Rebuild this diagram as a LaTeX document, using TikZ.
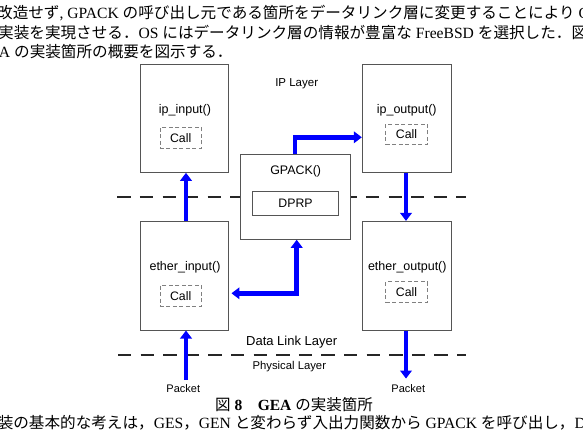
\documentclass[tikz,border=0pt]{standalone}
\usepackage{fontspec}
\setmainfont{Liberation Serif}
\newfontfamily\J{Noto Sans CJK JP}
\newfontfamily\dsans{Liberation Sans}
\usetikzlibrary{arrows.meta,calc}
\definecolor{boxgray}{HTML}{555555}
\definecolor{callgray}{HTML}{808080}
\definecolor{flowblue}{RGB}{0,0,255}
\tikzset{
  fbox/.style={draw=boxgray, line width=0.9pt, fill=white, inner sep=0pt},
  callbox/.style={draw=callgray, dashed, dash pattern=on 4pt off 2.5pt, line width=0.9pt, inner sep=0pt, minimum width=41.5pt, minimum height=20.8pt},
  lbl/.style={font=\dsans\fontsize{12.5}{14}\selectfont, inner sep=0pt},
  clbl/.style={font=\dsans\fontsize{12.3}{14}\selectfont, inner sep=0pt},
  layer/.style={draw=black!85, line width=2pt, dash pattern=on 13.3pt off 9.3pt},
  flow/.style={draw=flowblue, line width=4.6pt, -{Triangle[length=8pt,width=11.5pt]}},
  flowboth/.style={draw=flowblue, line width=4.6pt, {Triangle[length=8pt,width=11.5pt]}-{Triangle[length=8pt,width=11.5pt]}},
  body/.style={font=\fontsize{15.6}{18}\selectfont, anchor=base west, inner sep=0pt},
}
\begin{document}
\begin{tikzpicture}[x=1pt,y=-1pt]
\useasboundingbox (0,0) rectangle (583,433);
\clip (0,0) rectangle (583,433);
\fill[white] (0,0) rectangle (583,433);

% body text
\node[body] (t1) at (-3,18.4) {{\J 改造せず}, GPACK {\J の呼び出し元である箇所をデータリンク層に変更することにより} GEA {\J の}};
\node[body] (t2) at (-2,38.7) {{\J 実装を実現させる．}OS {\J にはデータリンク層の情報が豊富な} FreeBSD {\J を選択した．図} 8};
\node[body] (t3) at (-22,57.4) {GEA {\J の実装箇所の概要を図示する．}};
\node[body] (t4) at (-18,428.7) {{\J 実装の基本的な考えは，}GES{\J ，}GEN {\J と変わらず入出力関数から} GPACK {\J を呼び出し，}DPRP};
\node[font=\fontsize{15.5}{18}\selectfont, anchor=base, inner sep=0pt] (cap) at (294,410.7) {{\J 図} \textbf{8}{\J 　}\textbf{GEA} {\J の実装箇所}};

% layer lines
\coordinate (d1l) at (117.3,196.7);
\coordinate (d1r) at (466,196.7);
\coordinate (d2l) at (118,355);
\coordinate (d2r) at (466,355);
\draw[layer] (d1l) -- (d1r);
\draw[layer] (d2l) -- (d2r);

% boxes
\node[fbox, minimum width=87.6pt, minimum height=108.3pt] (ipin) at (184.5,118.2) {};
\node[fbox, minimum width=89.4pt, minimum height=108.3pt] (ipout) at (407,118.2) {};
\node[fbox, minimum width=87.6pt, minimum height=108.7pt] (ethin) at (184.5,275.7) {};
\node[fbox, minimum width=89.4pt, minimum height=108.7pt] (ethout) at (407,275.7) {};
\node[fbox, minimum width=110pt, minimum height=84.6pt] (gpack) at (295.7,197) {};
\node[fbox, minimum width=85.6pt, minimum height=24pt] (dprp) at (295.5,203) {};

\node[lbl] (ipinL) at (185,110.7) {ip\_input()};
\node[lbl] (ipoutL) at (406.7,110) {ip\_output()};
\node[lbl] (ethinL) at (185,267.7) {ether\_input()};
\node[lbl] (ethoutL) at (407.3,267.7) {ether\_output()};
\node[lbl, font=\dsans\fontsize{12.4}{14}\selectfont] (gpackL) at (295.7,171.7) {GPACK()};
\node[clbl] (dprpL) at (295.5,203) {DPRP};

\node[callbox] (c1) at (180.7,138) {};
\node[clbl] at (c1) {Call};
\node[callbox] (c2) at (406.5,134.5) {};
\node[clbl] at (c2) {Call};
\node[callbox] (c3) at (180.7,295.8) {};
\node[clbl] at (c3) {Call};
\node[callbox] (c4) at (406.5,292.2) {};
\node[clbl] at (c4) {Call};

\node[lbl, font=\dsans\fontsize{11.5}{14}\selectfont] (ipl) at (296.7,83.3) {IP Layer};
\node[lbl, font=\dsans\fontsize{13}{15}\selectfont] (dll) at (291.7,341.7) {Data Link Layer};
\node[lbl, font=\dsans\fontsize{11.3}{14}\selectfont] (phl) at (289.3,366.7) {Physical Layer};
\node[lbl, font=\dsans\fontsize{11}{13}\selectfont] (pin) at (183.3,388.3) {Packet};
\node[lbl, font=\dsans\fontsize{11}{13}\selectfont] (pout) at (408.3,388.3) {Packet};

% flows
\draw[flow] ([xshift=1.5pt]ethin.north) -- ([xshift=1.5pt]ipin.south);
\draw[flow] ([xshift=-0.7pt]gpack.north) |- ([yshift=-19.1pt]ipout.west);
\draw[flow] ([xshift=-1pt]ipout.south) -- ([xshift=-1pt]ethout.north);
\draw[flowboth, shorten <=2.7pt] ([yshift=-17.6pt]ethin.east) -| ([xshift=1pt]gpack.south);
\draw[flow] ([xshift=2.7pt,yshift=4pt]pin.north) -- ([xshift=1.5pt]ethin.south);
\draw[flow] ([xshift=-1pt]ethout.south) -- ([xshift=-2.3pt,yshift=5.5pt]pout.north);
\end{tikzpicture}
\end{document}
